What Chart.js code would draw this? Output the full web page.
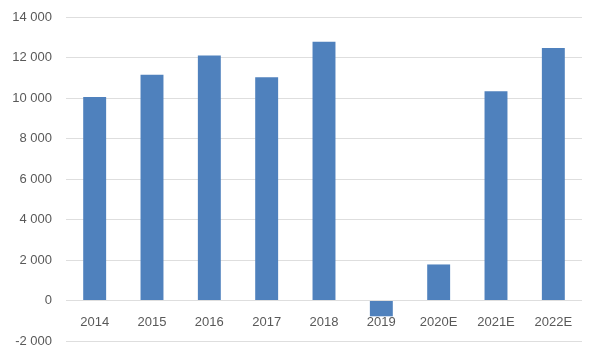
<!DOCTYPE html>
<html>
<head>
<meta charset="utf-8">
<script src="https://cdn.jsdelivr.net/npm/chart.js@4"></script>
<style>
html,body{margin:0;padding:0;background:#fff;}
#wrap{width:600px;height:360px;}
</style>
</head>
<body>
<div id="wrap"><canvas id="c" width="600" height="360"></canvas></div>
<script>
const categories = ["2014","2015","2016","2017","2018","2019","2020E","2021E","2022E"];
const values = [10050, 11150, 12100, 11030, 12780, -780, 1780, 10330, 12470];
const yTicks = [-2000, 0, 2000, 4000, 6000, 8000, 10000, 12000, 14000];

function fmt(v){
  const s = Math.abs(v).toString().replace(/\B(?=(\d{3})+(?!\d))/g, " ");
  return (v < 0 ? "-" : "") + s;
}

new Chart(document.getElementById("c"), {
  type: "bar",
  data: {
    labels: categories,
    datasets: [{
      data: values,
      backgroundColor: "#4F81BD",
      borderWidth: 0,
      barPercentage: 0.4,
      categoryPercentage: 1.0
    }]
  },
  options: {
    responsive: false,
    animation: false,
    devicePixelRatio: 1,
    layout: { padding: { left: 0, right: 18, top: 17, bottom: 19 } },
    plugins: { legend: { display: false }, tooltip: { enabled: false } },
    scales: {
      x: {
        position: { y: 0 },
        grid: { display: false, drawTicks: false },
        border: { display: false },
        ticks: {
          color: "#595959",
          font: { family: "Liberation Sans", size: 13 },
          padding: 14,
          maxRotation: 0
        }
      },
      y: {
        min: -2000,
        max: 14000,
        afterBuildTicks: (s) => { s.ticks = yTicks.map(v => ({ value: v })); },
        afterFit: (s) => { s.width = 66; s.paddingTop = 0; s.paddingBottom = 0; },
        grid: { color: "#dedede", lineWidth: 1, drawTicks: false },
        border: { display: false },
        ticks: {
          color: "#595959",
          font: { family: "Liberation Sans", size: 13 },
          padding: 14,
          callback: (v) => fmt(v)
        }
      }
    }
  }
});
</script>
</body>
</html>
